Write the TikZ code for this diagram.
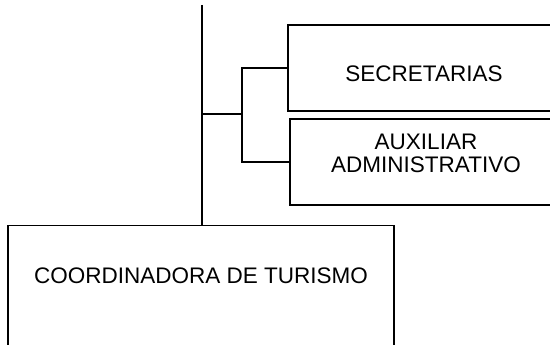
\documentclass[tikz,border=0pt]{standalone}
\usepackage{fontspec}
\setmainfont{Liberation Sans}
\begin{document}
\begin{tikzpicture}[x=1pt, y=-1pt,
	every node/.style={
		shape=rectangle,
		inner sep=0pt,
		text centered,
		font=\fontsize{22.5}{24}\selectfont,
		line width=1.2pt,
		draw=black,
	},
	unitbox/.style={minimum width=272pt, minimum height=86pt},
]
\useasboundingbox (0,0) rectangle (550,345);
\clip (0,0) rectangle (550,345);
\node[unitbox, text height=28pt, text depth=0pt] (sec) at (424,68) {SECRETARIAS};
\node[unitbox, align=center, text height=40pt, text depth=18pt] (aux) at (426,162) {AUXILIAR\\ADMINISTRATIVO};
\node[minimum width=386pt, text height=58pt, text depth=140pt, anchor=north] (coor) at (201,225) {COORDINADORA DE TURISMO};
\coordinate (top) at (202,5);
\coordinate (junc) at (202,114);
\coordinate (fork) at (242,114);
\begin{scope}[line width=1.2pt, black]
\draw (top) -- (top |- coor.north);
\draw (junc) -- (fork);
\draw (sec.west) -| (fork) |- (aux.west);
\end{scope}
\end{tikzpicture}
\end{document}
